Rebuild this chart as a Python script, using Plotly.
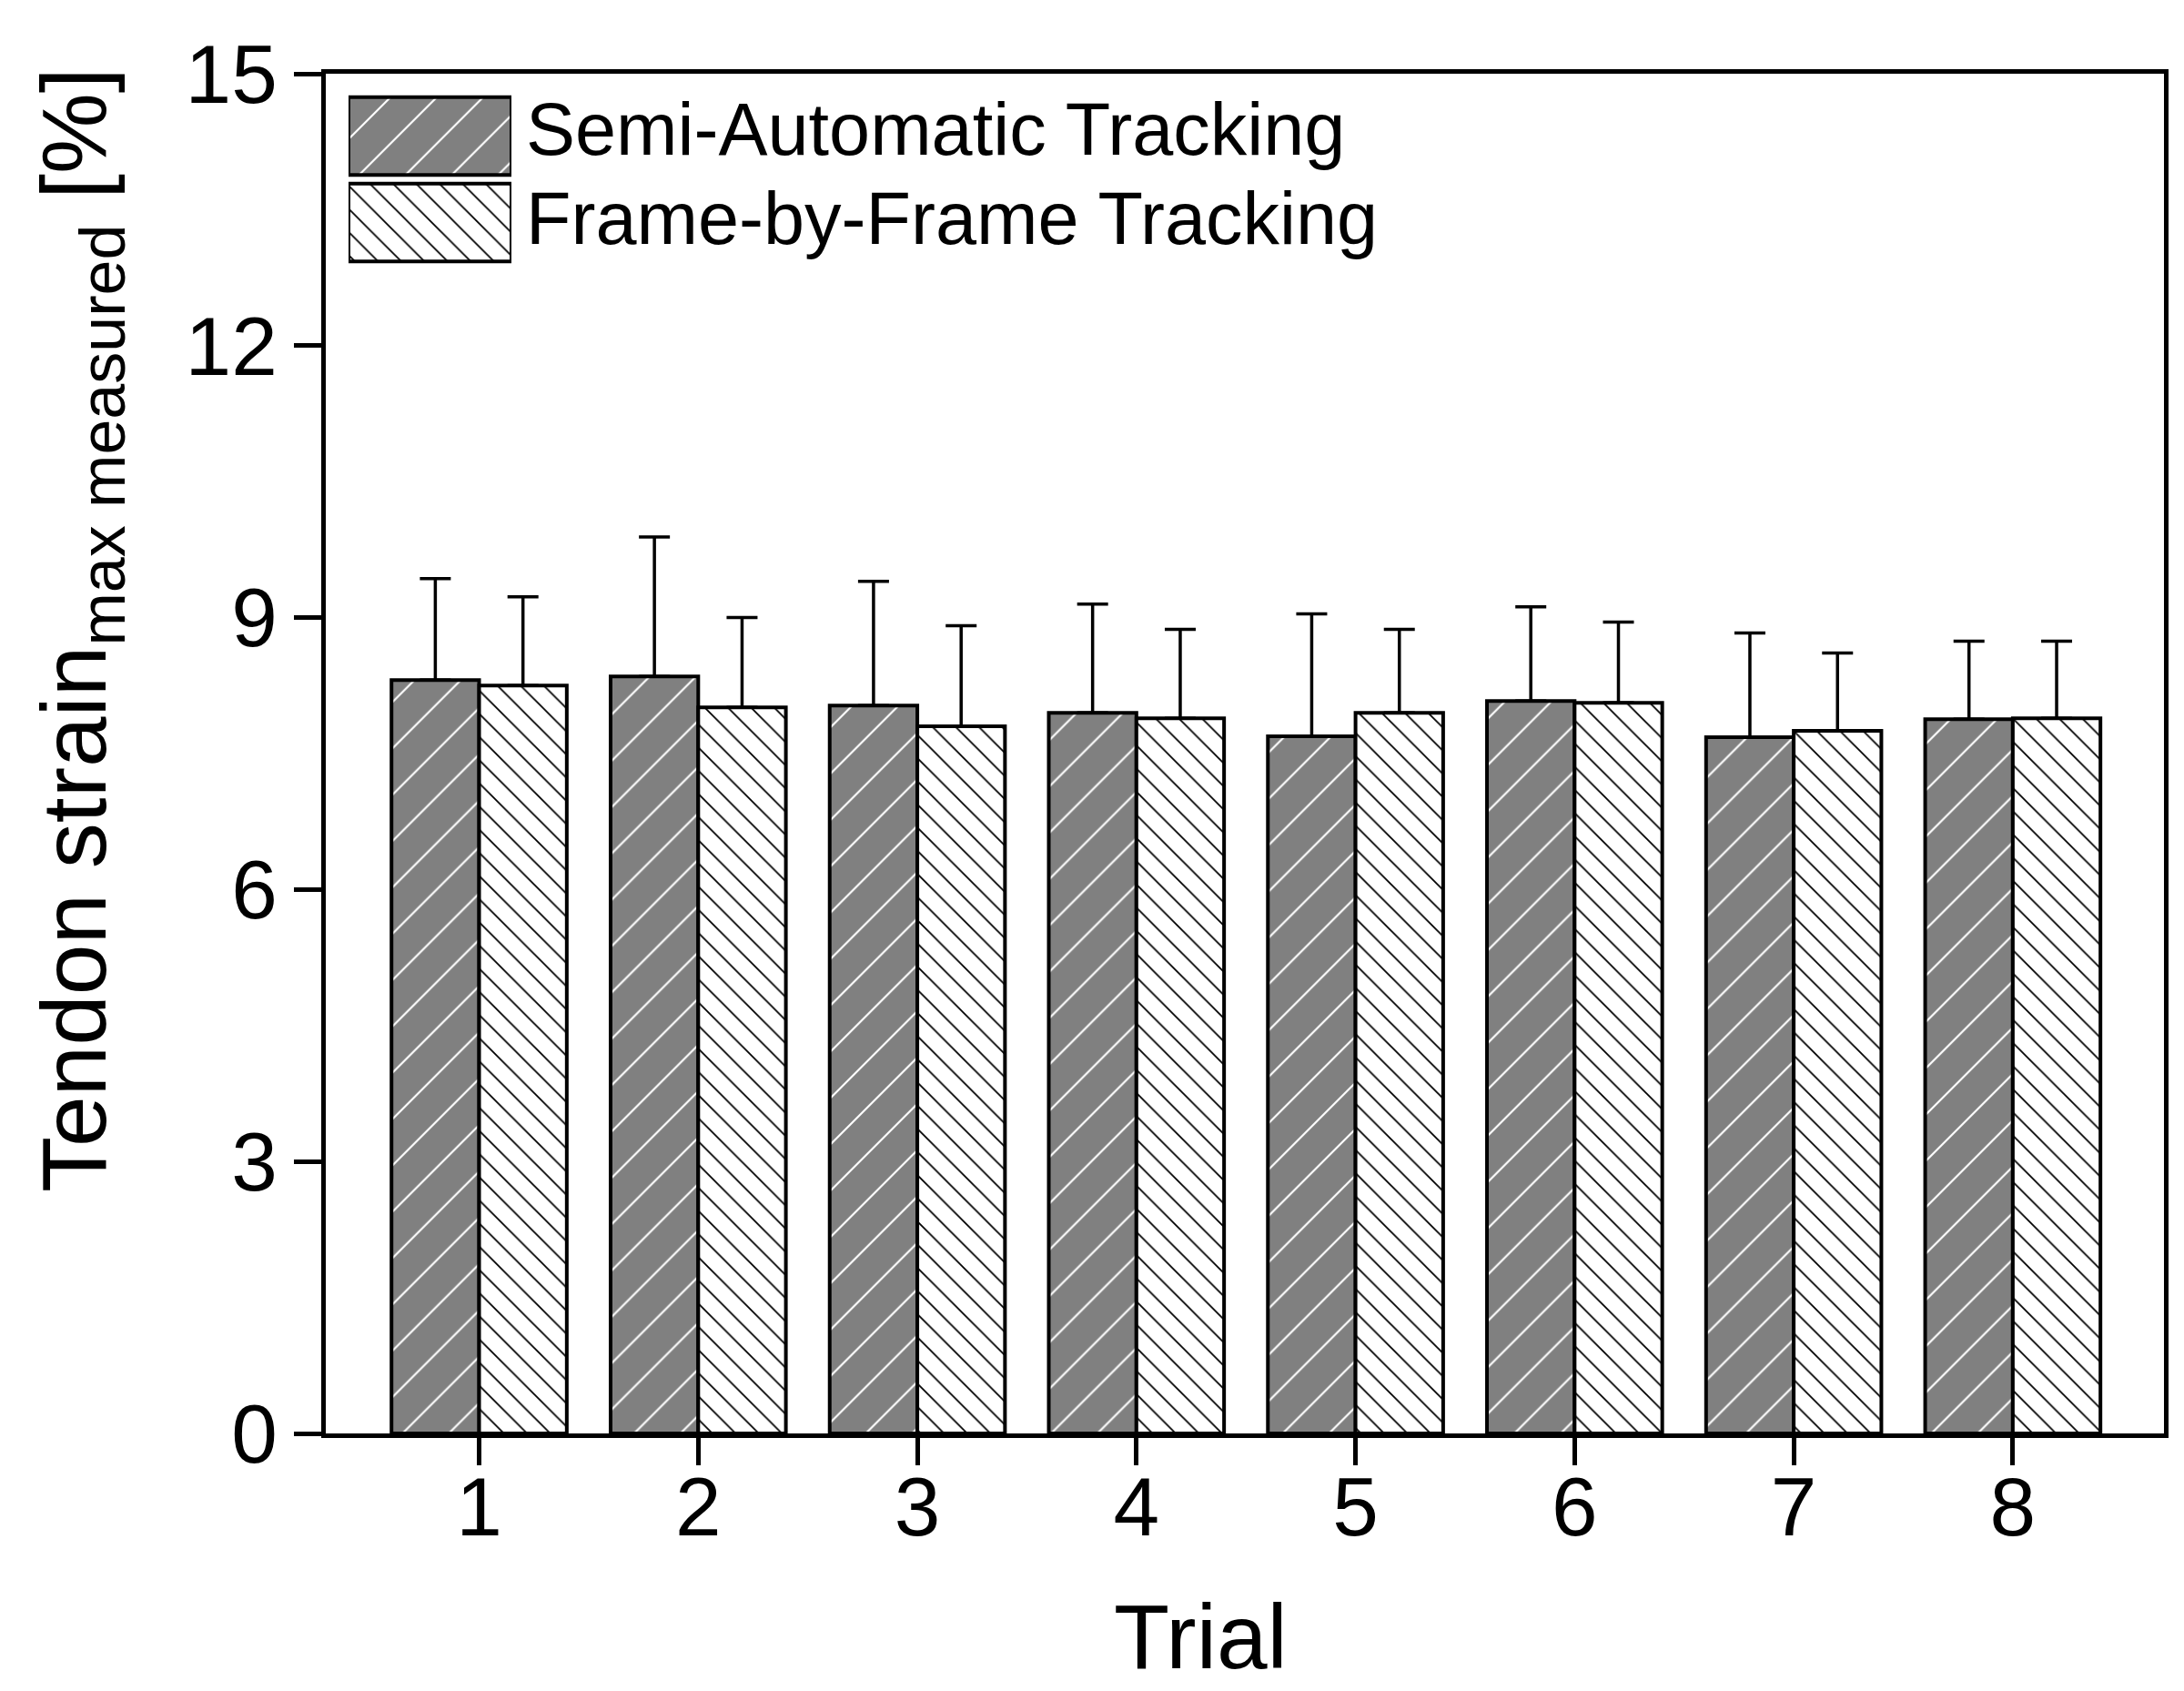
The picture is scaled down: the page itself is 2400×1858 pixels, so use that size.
import plotly.graph_objects as go

trials = [1, 2, 3, 4, 5, 6, 7, 8]
semi_mean = [8.31, 8.35, 8.03, 7.95, 7.69, 8.08, 7.68, 7.88]
semi_sd = [1.12, 1.54, 1.37, 1.20, 1.35, 1.04, 1.15, 0.86]
frame_mean = [8.25, 8.01, 7.80, 7.89, 7.95, 8.06, 7.75, 7.89]
frame_sd = [0.98, 0.99, 1.11, 0.98, 0.92, 0.89, 0.86, 0.85]
series_names = ["Semi-Automatic Tracking", "Frame-by-Frame Tracking"]
y_ticks = [0, 3, 6, 9, 12, 15]

FONT = "Liberation Sans, Arial, sans-serif"
W, H = 2400, 1858
L, R, T, B = 350, 30, 73, 291
PW, PH = W - L - R, H - T - B

def px_x(x):
    return (x - L) / PW

def px_y(y):
    return (H - B - y) / PH

dark_pattern = dict(shape="/", fgcolor="white", bgcolor="#808080", size=36, solidity=0.06, fillmode="replace")
light_pattern = dict(shape="\\", fgcolor="black", bgcolor="white", size=18, solidity=0.1, fillmode="replace")

fig = go.Figure()
fig.add_trace(go.Bar(
    x=trials, y=semi_mean, name=series_names[0], showlegend=False,
    marker=dict(color="#808080", pattern=dark_pattern, line=dict(color="black", width=4)),
    error_y=dict(type="data", array=semi_sd, arrayminus=[0] * len(semi_sd), symmetric=False,
                 color="black", thickness=3.5, width=17),
))
fig.add_trace(go.Bar(
    x=trials, y=frame_mean, name=series_names[1], showlegend=False,
    marker=dict(color="white", pattern=light_pattern, line=dict(color="black", width=4)),
    error_y=dict(type="data", array=frame_sd, arrayminus=[0] * len(frame_sd), symmetric=False,
                 color="black", thickness=3.5, width=17),
))

# legend swatches drawn as bars on an auxiliary axis
fig.add_trace(go.Bar(
    x=[1], y=[1], orientation="h", width=0.9, xaxis="x2", yaxis="y2", showlegend=False,
    marker=dict(color="#808080", pattern=dark_pattern, line=dict(color="black", width=4)),
    hoverinfo="skip",
))
fig.add_trace(go.Bar(
    x=[1], y=[0], orientation="h", width=0.9, xaxis="x2", yaxis="y2", showlegend=False,
    marker=dict(color="white", pattern=light_pattern, line=dict(color="black", width=4)),
    hoverinfo="skip",
))

axis_common = dict(showline=True, linewidth=5, linecolor="black", mirror=True,
                   ticks="outside", ticklen=30, tickwidth=4.5, tickcolor="black",
                   showgrid=False, zeroline=False,
                   tickfont=dict(family=FONT, size=91, color="black"))

fig.update_layout(
    width=W, height=H,
    margin=dict(l=L, r=R, t=T, b=B),
    paper_bgcolor="white", plot_bgcolor="white",
    barmode="group", bargap=0.2, bargroupgap=0,
    xaxis=dict(range=[0.30, 8.69], tickvals=trials, ticktext=[str(t) for t in trials],
               ticklabelstandoff=-32, **axis_common),
    yaxis=dict(range=[0, 15], tickvals=y_ticks, ticktext=[str(v) for v in y_ticks], **axis_common),
    xaxis2=dict(domain=[px_x(375), px_x(554)], range=[0, 1], visible=False, anchor="y2", fixedrange=True),
    yaxis2=dict(domain=[px_y(284), px_y(94)], range=[-0.5, 1.5], visible=False, anchor="x2", fixedrange=True),
    showlegend=False,
    annotations=[
        dict(text="Tendon strain<sub>max measured</sub> [%]", textangle=-90,
             xref="paper", yref="paper", x=px_x(80), y=px_y(684),
             xanchor="center", yanchor="middle", showarrow=False,
             font=dict(family=FONT, size=100, color="black")),
        dict(text="Trial", xref="paper", yref="paper", x=px_x(1311), y=px_y(1790),
             xanchor="center", yanchor="middle", showarrow=False,
             font=dict(family=FONT, size=100, color="black")),
        dict(text=series_names[0], xref="paper", yref="paper", x=px_x(568), y=px_y(134),
             xanchor="left", yanchor="middle", showarrow=False,
             font=dict(family=FONT, size=81, color="black")),
        dict(text=series_names[1], xref="paper", yref="paper", x=px_x(568), y=px_y(232),
             xanchor="left", yanchor="middle", showarrow=False,
             font=dict(family=FONT, size=81, color="black")),
    ],
)

fig.write_html("out.html")
